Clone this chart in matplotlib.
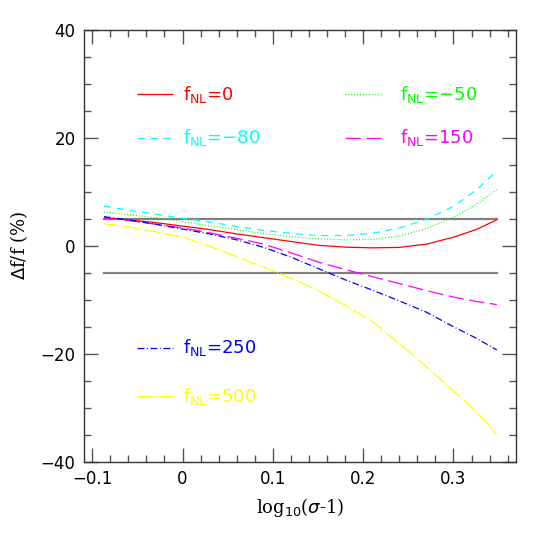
import matplotlib
matplotlib.use('Agg')
import matplotlib.pyplot as plt
from matplotlib.ticker import MultipleLocator

# log10(sigma-1) sample points
x = [-0.087, -0.06, -0.03, 0.0, 0.03, 0.06, 0.09, 0.12, 0.15, 0.18,
     0.21, 0.24, 0.27, 0.30, 0.325, 0.348]

# Delta f / f (%) for each f_NL
f_0 = [5.2, 4.8, 4.3, 3.65, 3.0, 2.2, 1.5, 0.8, 0.1, -0.25,
       -0.38, -0.3, 0.3, 1.6, 3.0, 4.8]
f_m50 = [6.3, 5.8, 5.2, 4.5, 3.7, 3.0, 2.25, 1.7, 1.3, 1.1,
         1.2, 1.8, 3.2, 5.3, 7.6, 10.4]
f_m80 = [7.35, 6.6, 5.85, 5.1, 4.4, 3.6, 2.85, 2.3, 1.9, 1.9,
         2.3, 3.3, 4.9, 7.3, 10.3, 13.9]
f_150 = [5.1, 4.7, 4.0, 3.3, 2.4, 1.4, 0.3, -1.3, -3.0, -4.4,
         -5.7, -7.0, -8.3, -9.5, -10.3, -10.9]
f_250 = [5.4, 4.8, 4.0, 3.1, 2.2, 1.1, -0.3, -2.1, -4.2, -6.3,
         -8.2, -10.2, -12.3, -15.0, -17.1, -19.3]
f_500 = [4.1, 3.5, 2.6, 1.6, -0.1, -2.0, -4.0, -6.0, -8.3, -11.0,
         -14.0, -18.1, -22.4, -26.9, -30.7, -34.9]

labels = ['0', '\u221250', '\u221280', '150', '250', '500']
band = [5, -5]

series = [f_0, f_m50, f_m80, f_150, f_250, f_500]
colors = ['#ff0000', '#00ff00', '#00ffff', '#ff00ff', '#0000ff', '#ffff00']
styles = [(0, ()), (0, (0.7, 1.4)), (0, (5, 4.3)), (0, (11, 4)),
          (0, (5, 1.8, 0.7, 1.8)), (0, (11, 1.5, 0.7, 1.5))]
# legend layout: sample-line start, text x, y (data coords)
key_pos = [(-0.0505, 0.0004, 28.1), (0.18, 0.2406, 28.1),
           (-0.0505, 0.0004, 20.0), (0.18, 0.2406, 20.0),
           (-0.0505, 0.0004, -18.9), (-0.0505, 0.0004, -27.9)]

plt.rcParams['lines.scale_dashes'] = False
plt.rcParams['mathtext.fontset'] = 'dejavusans'

fig = plt.figure(figsize=(5.45, 5.45), dpi=100)
ax = fig.add_axes([0.154, 0.153, 0.793, 0.792])

for yb in band:
    ax.plot([x[0], x[-1]], [yb, yb], color='#808080', lw=1.6, zorder=1)

for ys, c, ls, lab, (kx, tx, ky) in zip(series, colors, styles, labels, key_pos):
    ax.plot(x, ys, color=c, lw=0.9, linestyle=ls, zorder=2)
    ax.plot([kx, kx + 0.04], [ky, ky], color=c, lw=0.9, linestyle=ls)
    ax.text(tx, ky, r'f$_{\mathregular{NL}}$=' + lab, color=c, fontsize=13,
            va='center', ha='left')

ax.set_xlim(-0.1092, 0.3694)
ax.set_ylim(-40, 40)
ax.xaxis.set_minor_locator(MultipleLocator(0.02))
ax.yaxis.set_minor_locator(MultipleLocator(5))
ax.set_xticks([-0.1, 0, 0.1, 0.2, 0.3])
ax.set_xticklabels(['\u22120.1', '0', '0.1', '0.2', '0.3'])
ax.set_yticks([-40, -20, 0, 20, 40])
ax.set_yticklabels(['\u221240', '\u221220', '0', '20', '40'])

ax.tick_params(which='both', direction='in', top=True, right=True,
               color='#555555', labelsize=12)
ax.tick_params(which='major', length=10, width=1, pad=6)
ax.tick_params(which='minor', length=5, width=1)
for sp in ax.spines.values():
    sp.set_color('#333333')
    sp.set_linewidth(1)

ax.set_xlabel(r'log$_{10}$($\sigma$-1)', fontsize=13, family='DejaVu Serif',
              labelpad=6)
ax.set_ylabel(r'$\Delta$f/f (%)', fontsize=13, family='DejaVu Serif')
ax.yaxis.set_label_coords(-0.125, 0.5)

fig.savefig('out.png', dpi=100)
